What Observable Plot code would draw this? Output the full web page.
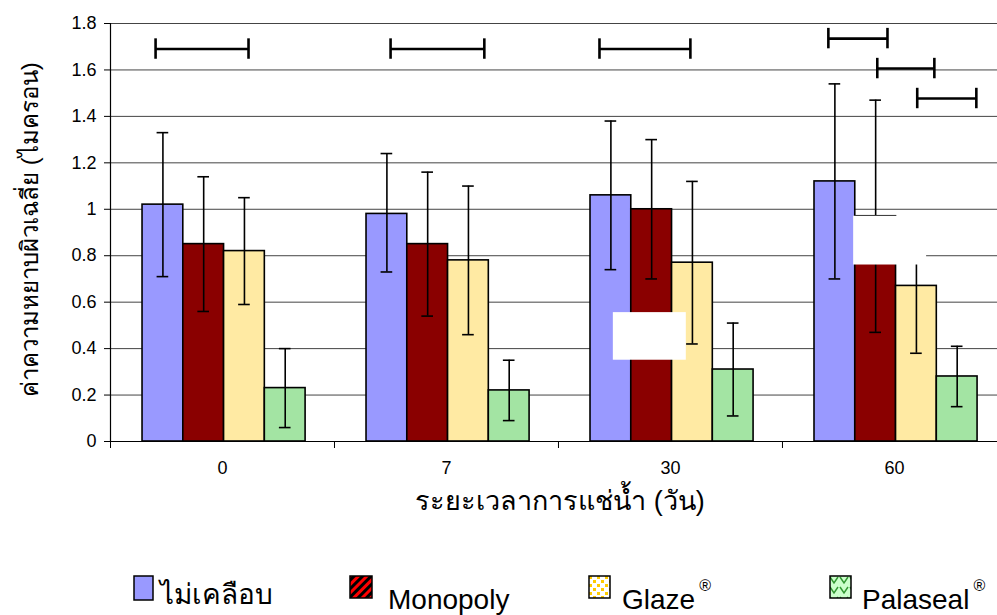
<!DOCTYPE html>
<html><head><meta charset="utf-8">
<script src="https://cdn.jsdelivr.net/npm/d3@7"></script>
<script src="https://cdn.jsdelivr.net/npm/@observablehq/plot@0.6"></script>
<style>
body{margin:0;background:#fff;font-family:"Liberation Sans",Arial,"Noto Sans",sans-serif;}
#wrap{position:relative;width:997px;height:615px;overflow:hidden;}
#legend{position:absolute;left:0;top:545px;width:997px;height:70px;}
.item{position:absolute;top:30px;height:40px;}
.item svg{position:absolute;left:0;top:0;}
.item span{position:absolute;white-space:nowrap;font-size:28px;color:#000;line-height:1;}
.item sup{font-size:16px;position:relative;top:-8px;margin-left:4px;}
</style>
</head><body>
<div id="wrap"><div id="chart"></div><div id="legend"></div></div>
<script>
// ---- data ----
const days = ["0", "7", "30", "60"];
const seriesNames = ["ไม่เคลือบ", "Monopoly", "Glaze", "Palaseal"];
const seriesColors = ["#9999FF", "#8A0000", "#FFEAA3", "#A3E4A3"];
const meanUncoated = [1.02, 0.98, 1.06, 1.12];
const meanMonopoly = [0.85, 0.85, 1.00, 0.97];
const meanGlaze    = [0.82, 0.78, 0.77, 0.67];
const meanPalaseal = [0.23, 0.22, 0.31, 0.28];
const lowUncoated  = [0.71, 0.73, 0.74, 0.70];
const highUncoated = [1.33, 1.24, 1.38, 1.54];
const lowMonopoly  = [0.56, 0.54, 0.70, 0.47];
const highMonopoly = [1.14, 1.16, 1.30, 1.47];
const lowGlaze     = [0.59, 0.46, 0.42, 0.38];
const highGlaze    = [1.05, 1.10, 1.12, 0.96];
const lowPalaseal  = [0.06, 0.09, 0.11, 0.15];
const highPalaseal = [0.40, 0.35, 0.51, 0.41];
const yTicks = [0, 0.2, 0.4, 0.6, 0.8, 1, 1.2, 1.4, 1.6, 1.8];
const xTitle = "ระยะเวลาการแช่น้ำ (วัน)";
const yTitle = "ค่าความหยาบผิวเฉลี่ย (ไมครอน)";
// significance brackets: group index, from/to in bar units within group, height
const bracketGroup = [0, 1, 2, 3, 3, 3];
const bracketFrom  = [0.32, 0.59, 0.22, 0.34, 1.54, 2.52];
const bracketTo    = [2.60, 2.89, 2.45, 1.79, 2.94, 3.97];
const bracketY     = [1.69, 1.69, 1.69, 1.735, 1.606, 1.477];
// white masking boxes present in the original (group, bar-unit from/to, value range)
const maskGroup = [2, 3];
const maskFrom  = [0.56, 0.96];
const maskTo    = [2.35, 2.75];
const maskLow   = [0.35, 0.76];
const maskHigh  = [0.555, 0.97];

// ---- build ----
const means = [meanUncoated, meanMonopoly, meanGlaze, meanPalaseal];
const lows = [lowUncoated, lowMonopoly, lowGlaze, lowPalaseal];
const highs = [highUncoated, highMonopoly, highGlaze, highPalaseal];
const groupStart = 0.143, barW = 0.182, capHalf = 0.026, endHalf = 0.044;
const barData = days.flatMap((d, i) => seriesNames.map((s, j) => ({
  day: d, series: s, mean: means[j][i], low: lows[j][i], high: highs[j][i],
  x1: i + groupStart + j * barW, x2: i + groupStart + (j + 1) * barW,
  xc: i + groupStart + (j + 0.5) * barW
})));
const brackets = bracketGroup.map((g, k) => ({
  x1: g + groupStart + bracketFrom[k] * barW,
  x2: g + groupStart + bracketTo[k] * barW,
  y: bracketY[k]
}));
const bracketEnds = brackets.flatMap(b => [{x: b.x1, y: b.y}, {x: b.x2, y: b.y}]);
const masks = maskGroup.map((g, k) => ({
  x1: g + groupStart + maskFrom[k] * barW, x2: g + groupStart + maskTo[k] * barW,
  y1: maskLow[k], y2: maskHigh[k]
}));

const chart = Plot.plot({
  width: 997, height: 545,
  marginLeft: 110, marginRight: 0, marginTop: 23, marginBottom: 104,
  style: {fontFamily: '"Liberation Sans", Arial, sans-serif', background: "#fff"},
  x: {domain: [0, 3.96], axis: null},
  y: {domain: [0, 1.8], axis: null},
  marks: [
    Plot.gridY(yTicks, {stroke: "#444", strokeOpacity: 1, strokeWidth: 1}),
    Plot.rect(barData, {x1: "x1", x2: "x2", y1: 0, y2: "mean",
      fill: d => seriesColors[seriesNames.indexOf(d.series)], stroke: "#000", strokeWidth: 1.6}),
    Plot.ruleX(barData, {x: "xc", y1: "low", y2: "high", stroke: "#000", strokeWidth: 1.6}),
    Plot.ruleY(barData, {y: "low", x1: d => d.xc - capHalf, x2: d => d.xc + capHalf, stroke: "#000", strokeWidth: 1.6}),
    Plot.ruleY(barData, {y: "high", x1: d => d.xc - capHalf, x2: d => d.xc + capHalf, stroke: "#000", strokeWidth: 1.6}),
    Plot.rect(masks, {x1: "x1", x2: "x2", y1: "y1", y2: "y2", fill: "#fff"}),
    Plot.ruleY(brackets, {y: "y", x1: "x1", x2: "x2", stroke: "#000", strokeWidth: 2.6}),
    Plot.ruleX(bracketEnds, {x: "x", y1: d => d.y - endHalf, y2: d => d.y + endHalf, stroke: "#000", strokeWidth: 2.6}),
    Plot.ruleX([0], {stroke: "#000", strokeWidth: 1.2}),
    Plot.ruleY([0], {stroke: "#000", strokeWidth: 1.2}),
    Plot.axisY({ticks: yTicks, tickFormat: d => d3.format("~g")(d), tickSize: 6, tickPadding: 8, fontSize: 18, stroke: "#000"}),
    Plot.axisX({ticks: [0, 1, 2, 3], tickFormat: () => "", tickSize: 7, stroke: "#000"}),
    Plot.axisX({ticks: days.map((d, i) => i + 0.5), tickFormat: v => days[Math.floor(v)], tickSize: 0, tickPadding: 20, fontSize: 18}),
    Plot.text([xTitle], {frameAnchor: "bottom", dy: 68, dx: 6, fontSize: 27, fill: "#000"}),
    Plot.text([yTitle], {frameAnchor: "left", textAnchor: "middle", rotate: -90, dx: -80, dy: -3, fontSize: 24, fill: "#000"})
  ]
});
document.getElementById("chart").appendChild(chart);

// ---- legend ----
const swatchDefs = [
  `<rect x="1" y="1" width="19" height="24" fill="#9999FF" stroke="#000" stroke-width="1.5"/>`,
  `<defs><pattern id="pm" width="6" height="6" patternUnits="userSpaceOnUse" patternTransform="rotate(45)"><rect width="6" height="6" fill="#000"/><rect width="3" height="6" fill="#FF0000"/></pattern></defs>
   <rect x="1" y="1" width="22" height="22" fill="url(#pm)" stroke="#000" stroke-width="1.5"/>`,
  `<defs><pattern id="pg" width="8" height="8" patternUnits="userSpaceOnUse"><rect width="8" height="8" fill="#fff"/><rect x="1" y="1" width="3" height="3" fill="#FFCC00"/><rect x="5" y="5" width="3" height="3" fill="#FFCC00"/></pattern></defs>
   <rect x="1" y="1" width="21" height="22" fill="url(#pg)" stroke="#000" stroke-width="1.5"/>`,
  `<defs><pattern id="pp" width="10" height="10" patternUnits="userSpaceOnUse"><rect width="10" height="10" fill="#CCFFCC"/><path d="M1 2 L5 8 L9 2" fill="none" stroke="#339933" stroke-width="1.5"/></pattern></defs>
   <rect x="1" y="1" width="21" height="22" fill="url(#pp)" stroke="#000" stroke-width="1.5"/>`
];
const legendLeft = [133, 349, 588, 829];
const legendTextDx = [27, 39, 34, 33];
const legendTextDy = [6, 11, 11, 11];
const legendSup = ["", "", "®", "®"];
const legend = document.getElementById("legend");
seriesNames.forEach((s, j) => {
  const div = document.createElement("div");
  div.className = "item";
  div.style.left = legendLeft[j] + "px";
  div.innerHTML = `<svg width="26" height="28">${swatchDefs[j]}</svg><span style="left:${legendTextDx[j]}px;top:${legendTextDy[j]}px">${s}${legendSup[j] ? `<sup>${legendSup[j]}</sup>` : ""}</span>`;
  legend.appendChild(div);
});
</script>
</body></html>
